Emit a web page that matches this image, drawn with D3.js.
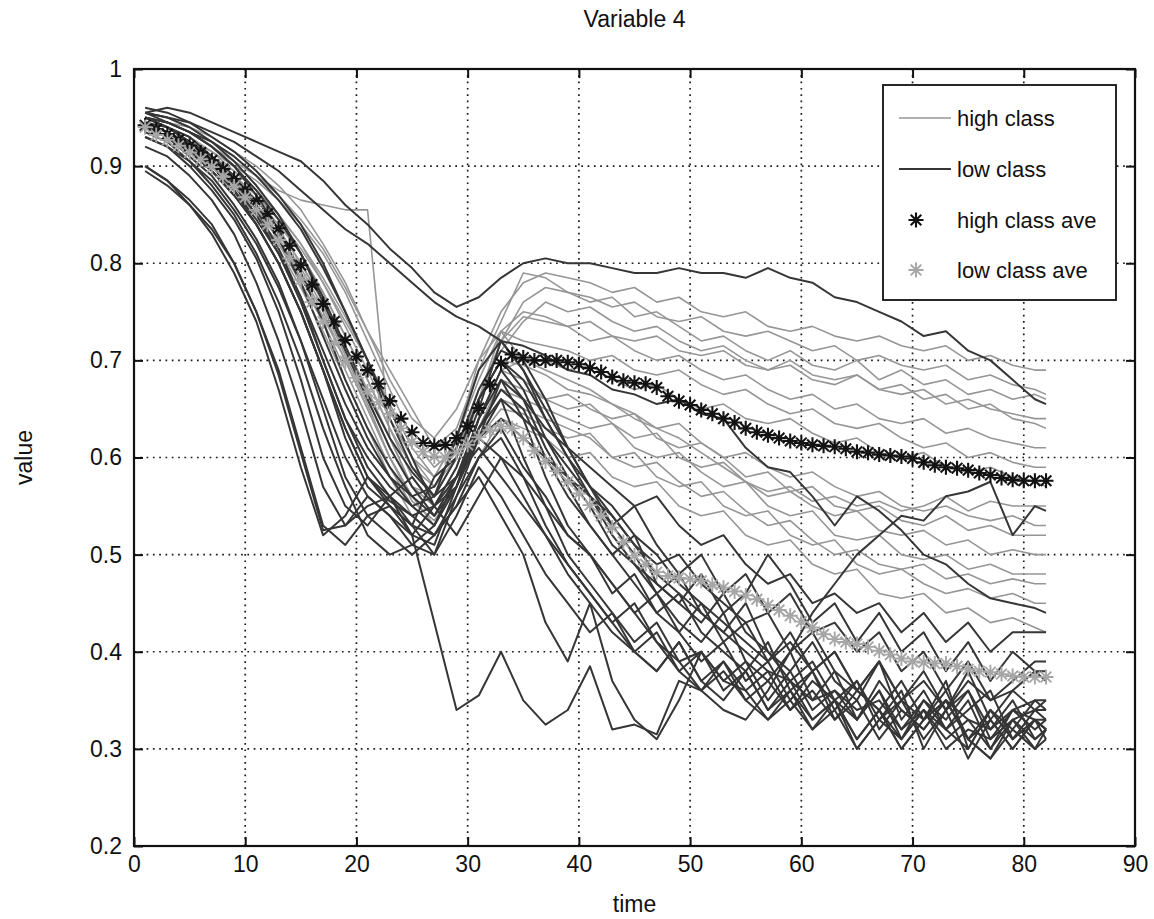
<!DOCTYPE html>
<html><head><meta charset="utf-8">
<script src="https://cdn.jsdelivr.net/npm/d3@7"></script>
<style>
body{margin:0;background:#fff}
svg{display:block}
text{font-family:"Liberation Sans",Arial,Helvetica,sans-serif;fill:#111}
</style>
</head><body>
<svg id="chart" width="1154" height="919"></svg>
<script>
// ---------- text ----------
const chartTitle = "Variable 4";
const xAxisLabel = "time";
const yAxisLabel = "value";
const legendLabels = ["high class", "low class", "high class ave", "low class ave"];

// ---------- ticks ----------
const xTickValues = [0, 10, 20, 30, 40, 50, 60, 70, 80, 90];
const yTickValues = [0.2, 0.3, 0.4, 0.5, 0.6, 0.7, 0.8, 0.9, 1.0];
const yTickLabels = ["0.2", "0.3", "0.4", "0.5", "0.6", "0.7", "0.8", "0.9", "1"];

// ---------- time grids ----------
const lineTimes = [1,3,5,7,9,11,13,15,17,19,21,23,25,27,29,31,33,35,37,39,41,43,45,47,49,51,53,55,57,59,61,63,65,67,69,71,73,75,77,79,81,82];
const aveTimes = [1,2,3,4,5,6,7,8,9,10,11,12,13,14,15,16,17,18,19,20,21,22,23,24,25,26,27,28,29,30,31,32,33,34,35,36,37,38,39,40,41,42,43,44,45,46,47,48,49,50,51,52,53,54,55,56,57,58,59,60,61,62,63,64,65,66,67,68,69,70,71,72,73,74,75,76,77,78,79,80,81,82];

// ---------- averages (one value per time step) ----------
const highClassAve = [0.942,0.938,0.933,0.927,0.921,0.914,0.906,0.897,0.887,0.876,0.864,0.851,0.836,0.818,0.798,0.778,0.758,0.740,0.721,0.704,0.690,0.676,0.658,0.640,0.626,0.615,0.612,0.613,0.620,0.632,0.651,0.675,0.697,0.706,0.703,0.700,0.700,0.700,0.698,0.696,0.692,0.688,0.683,0.679,0.677,0.676,0.672,0.663,0.658,0.654,0.649,0.645,0.640,0.636,0.630,0.626,0.623,0.620,0.617,0.615,0.613,0.612,0.611,0.609,0.606,0.605,0.603,0.602,0.601,0.599,0.595,0.592,0.590,0.589,0.587,0.584,0.582,0.579,0.577,0.576,0.576,0.576];
const lowClassAve = [0.940,0.932,0.927,0.921,0.914,0.907,0.899,0.889,0.879,0.868,0.855,0.840,0.824,0.805,0.783,0.760,0.740,0.718,0.699,0.682,0.668,0.657,0.645,0.630,0.616,0.606,0.601,0.600,0.605,0.613,0.621,0.628,0.632,0.630,0.620,0.607,0.596,0.586,0.575,0.563,0.551,0.540,0.528,0.513,0.499,0.490,0.482,0.478,0.476,0.475,0.473,0.469,0.466,0.462,0.458,0.454,0.448,0.443,0.437,0.431,0.425,0.418,0.413,0.410,0.408,0.405,0.401,0.397,0.393,0.390,0.389,0.388,0.388,0.385,0.382,0.380,0.379,0.377,0.375,0.374,0.374,0.374];

// ---------- high class series (values at lineTimes) ----------
const high01 = [.95,.945,.94,.93,.915,.90,.88,.855,.82,.78,.73,.68,.64, .62,.65,.70,.75,.78, .79,.785,.78,.77,.775,.76,.765,.75,.745,.75,.735,.73,.735,.725,.72,.725,.715,.71,.715,.70,.705,.695,.69,.69];
const high02 = [.94,.935,.925,.915,.90,.885,.865,.84,.81,.77,.72,.67,.62, .59,.61,.66,.72,.76, .775,.77,.765,.755,.76,.745,.74,.745,.73,.725,.73,.72,.71,.715,.70,.705,.695,.69,.695,.68,.685,.675,.67,.665];
const high03 = [.955,.95,.94,.925,.91,.89,.87,.845,.815,.775,.73,.69,.65, .61,.63,.69,.74,.79, .785,.77,.76,.765,.745,.75,.735,.72,.725,.71,.70,.71,.695,.69,.70,.68,.69,.675,.68,.665,.67,.66,.665,.66];
const high04 = [.94,.93,.92,.905,.89,.87,.845,.815,.78,.74,.70,.65,.60, .57,.60,.67,.71,.74, .76,.75,.755,.74,.73,.735,.72,.71,.715,.70,.69,.695,.68,.675,.685,.67,.665,.67,.655,.66,.65,.645,.64,.64];
const high05 = [.95,.945,.935,.92,.905,.89,.875,.865,.86,.855,.855,.62,.57, .56,.60,.66,.72,.745, .74,.735,.74,.725,.72,.725,.71,.705,.71,.695,.69,.70,.685,.68,.685,.67,.675,.66,.665,.65,.655,.64,.635,.63];
const high06 = [.945,.935,.925,.91,.895,.875,.85,.82,.785,.745,.70,.655,.61, .58,.62,.68,.73,.75, .745,.735,.72,.725,.71,.70,.705,.69,.68,.685,.67,.66,.665,.65,.655,.64,.635,.64,.625,.63,.62,.615,.61,.61];
const high07 = [.95,.94,.93,.915,.895,.875,.85,.82,.78,.735,.69,.64,.60, .58,.62,.70,.73,.72, .715,.71,.70,.705,.69,.685,.69,.675,.665,.67,.655,.645,.65,.635,.63,.635,.62,.61,.615,.60,.605,.595,.59,.59];
const high08 = [.94,.93,.92,.905,.885,.865,.84,.81,.77,.725,.68,.63,.59, .57,.61,.66,.73,.70, .70,.69,.695,.68,.67,.675,.66,.65,.655,.64,.635,.64,.625,.615,.62,.605,.60,.605,.59,.585,.59,.58,.575,.57];
const high09 = [.95,.94,.93,.91,.89,.87,.845,.81,.77,.725,.68,.63,.58, .55,.58,.64,.69,.70, .69,.68,.67,.655,.645,.63,.62,.605,.59,.575,.565,.57,.555,.56,.55,.555,.545,.55,.56,.545,.555,.55,.55,.55];
const high10 = [.945,.935,.92,.905,.885,.86,.835,.80,.76,.715,.67,.62,.57, .55,.59,.66,.70,.695, .685,.67,.665,.655,.64,.63,.635,.615,.60,.605,.59,.58,.585,.57,.56,.565,.55,.545,.55,.54,.535,.54,.53,.53];
const high11 = [.94,.93,.915,.90,.88,.855,.825,.79,.75,.70,.65,.60,.56, .53,.57,.63,.68,.67, .66,.665,.65,.64,.645,.62,.61,.615,.60,.58,.585,.565,.57,.55,.545,.55,.535,.53,.54,.525,.53,.52,.52,.52];
const high12 = [.95,.94,.925,.91,.89,.865,.835,.80,.76,.71,.66,.61,.57, .55,.58,.64,.69,.68, .66,.65,.655,.635,.62,.625,.60,.59,.595,.575,.56,.565,.55,.54,.545,.525,.52,.525,.51,.515,.50,.505,.50,.50];
const high13 = [.945,.935,.92,.90,.88,.855,.825,.785,.745,.70,.65,.60,.56, .54,.58,.63,.67,.66, .65,.64,.63,.635,.61,.60,.605,.585,.57,.575,.55,.54,.545,.52,.515,.52,.50,.495,.50,.485,.49,.48,.48,.48];
const high14 = [.94,.93,.915,.895,.875,.85,.82,.78,.74,.69,.64,.59,.55, .53,.57,.62,.65,.645, .63,.62,.625,.60,.59,.595,.575,.56,.565,.545,.53,.535,.515,.50,.505,.49,.485,.49,.475,.48,.47,.475,.47,.47];
const high15 = [.95,.94,.925,.905,.885,.86,.83,.795,.755,.705,.655,.60,.555, .535,.57,.62,.66,.65, .64,.63,.62,.60,.605,.58,.57,.575,.55,.54,.545,.52,.51,.515,.49,.48,.485,.47,.46,.465,.455,.46,.45,.45];
const high16 = [.945,.935,.92,.90,.875,.85,.815,.775,.73,.68,.63,.58,.54, .52,.55,.60,.64,.63, .62,.60,.605,.58,.57,.575,.55,.54,.545,.52,.51,.515,.49,.48,.485,.46,.455,.46,.44,.445,.43,.435,.425,.42];

// ---------- low class series (values at lineTimes) ----------
const low01 = [.955,.96,.955,.945,.935,.925,.915,.905,.885,.86,.84,.815,.795, .77,.755,.765,.785,.80, .805,.80,.80,.795,.79,.79,.795,.79,.79,.785,.795,.785,.78,.765,.76,.75,.74,.725,.73,.71,.70,.68,.66,.655];
const low02 = [.955,.95,.945,.935,.925,.91,.895,.875,.855,.835,.82,.80,.78, .76,.745,.735,.72,.69, .65,.61,.57,.54,.51,.48,.46,.44,.42,.40,.38,.37,.35,.36,.34,.35,.32,.34,.31,.33,.32,.34,.33,.33];
const low03 = [.95,.945,.935,.92,.90,.875,.845,.81,.765,.715,.665,.62,.585, .56,.62,.69,.72,.715, .705,.69,.685,.67,.665,.655,.66,.645,.64,.61,.59,.585,.56,.53,.56,.545,.525,.50,.49,.47,.455,.45,.445,.44];
const low04 = [.94,.93,.915,.895,.87,.84,.80,.75,.69,.63,.58,.555,.54, .52,.55,.60,.62,.58, .55,.52,.50,.47,.44,.41,.39,.36,.34,.33,.36,.40,.44,.47,.50,.52,.54,.535,.56,.565,.575,.52,.55,.545];
const low05 = [.93,.92,.905,.885,.855,.82,.775,.72,.66,.60,.56,.54,.52, .43,.34,.355,.40,.35, .325,.34,.385,.32,.325,.315,.37,.36,.38,.35,.37,.34,.36,.33,.35,.31,.34,.32,.35,.31,.33,.30,.33,.32];
const low06 = [.945,.935,.92,.90,.875,.84,.80,.75,.69,.63,.58,.55,.53, .52,.55,.58,.54,.50, .43,.39,.45,.37,.33,.31,.35,.40,.37,.36,.33,.35,.32,.34,.30,.33,.31,.34,.30,.32,.31,.33,.30,.32];
const low07 = [.90,.885,.865,.84,.80,.75,.69,.61,.53,.51,.54,.55,.52, .55,.58,.62,.60,.56, .52,.48,.45,.42,.40,.38,.41,.37,.39,.36,.38,.34,.37,.35,.33,.36,.32,.35,.33,.36,.31,.34,.35,.35];
const low08 = [.895,.88,.86,.835,.80,.75,.685,.605,.525,.53,.56,.54,.51, .50,.56,.62,.66,.60, .55,.50,.47,.44,.41,.43,.39,.40,.37,.39,.35,.38,.34,.36,.33,.37,.34,.32,.35,.33,.30,.34,.32,.33];
const low09 = [.92,.91,.89,.865,.83,.78,.72,.65,.57,.53,.55,.56,.52, .51,.57,.64,.68,.64, .58,.53,.50,.46,.48,.44,.42,.45,.41,.43,.39,.41,.38,.40,.36,.39,.35,.38,.34,.37,.35,.36,.38,.37];
const low10 = [.94,.93,.915,.895,.87,.84,.80,.75,.69,.62,.57,.55,.53, .58,.60,.66,.70,.67, .62,.58,.55,.51,.49,.46,.48,.44,.42,.45,.40,.38,.41,.37,.35,.39,.33,.36,.32,.35,.30,.33,.34,.34];
const low11 = [.95,.94,.93,.91,.885,.855,.815,.765,.70,.64,.59,.56,.54, .55,.59,.65,.72,.69, .64,.60,.57,.55,.52,.50,.47,.45,.43,.41,.39,.42,.38,.40,.36,.34,.37,.33,.35,.31,.34,.32,.35,.34];
const low12 = [.945,.935,.92,.90,.875,.845,.81,.765,.71,.655,.61,.58,.55, .53,.57,.63,.67,.65, .60,.56,.53,.50,.52,.47,.45,.43,.46,.42,.40,.37,.39,.35,.37,.33,.36,.30,.34,.36,.32,.35,.31,.32];
const low13 = [.955,.95,.94,.925,.905,.88,.85,.81,.76,.71,.66,.61,.57, .54,.58,.64,.69,.66, .61,.57,.53,.50,.47,.44,.46,.42,.40,.38,.41,.36,.38,.34,.37,.32,.35,.33,.37,.30,.34,.31,.33,.32];
const low14 = [.96,.955,.945,.93,.915,.895,.87,.84,.80,.75,.70,.64,.59, .56,.58,.63,.66,.64, .62,.59,.56,.54,.51,.49,.50,.47,.45,.43,.44,.40,.42,.38,.36,.39,.35,.37,.34,.38,.33,.36,.34,.35];
const low15 = [.95,.945,.935,.925,.91,.89,.865,.835,.795,.75,.70,.65,.60, .55,.57,.62,.64,.62, .60,.58,.56,.53,.55,.51,.48,.50,.46,.48,.44,.46,.42,.43,.40,.42,.38,.40,.36,.39,.35,.37,.39,.39];
const low16 = [.935,.925,.905,.88,.85,.81,.76,.70,.63,.57,.52,.50,.51, .53,.58,.61,.58,.55, .52,.49,.46,.43,.45,.41,.38,.40,.36,.38,.34,.37,.33,.35,.31,.34,.30,.33,.36,.31,.29,.33,.31,.32];
const low17 = [.94,.93,.91,.89,.86,.825,.78,.72,.65,.58,.54,.52,.50, .52,.56,.60,.63,.59, .56,.52,.50,.47,.44,.46,.42,.39,.41,.37,.39,.35,.38,.33,.36,.34,.31,.35,.32,.34,.36,.31,.34,.33];
const low18 = [.95,.94,.925,.905,.88,.85,.81,.76,.70,.64,.60,.57,.55, .56,.60,.66,.70,.68, .64,.60,.56,.52,.49,.47,.45,.48,.44,.46,.50,.47,.43,.45,.41,.44,.40,.42,.38,.41,.37,.40,.38,.38];
const low19 = [.945,.94,.925,.91,.89,.86,.825,.78,.725,.67,.62,.58,.56, .57,.61,.67,.71,.70, .66,.61,.57,.53,.50,.46,.43,.41,.44,.39,.37,.40,.35,.38,.33,.36,.31,.34,.32,.30,.34,.31,.33,.32];
const low20 = [.93,.92,.90,.875,.845,.805,.75,.68,.60,.55,.53,.56,.58, .55,.52,.56,.60,.58, .53,.49,.46,.43,.40,.42,.38,.36,.39,.35,.33,.36,.32,.35,.30,.33,.35,.31,.34,.29,.33,.30,.33,.31];
const low21 = [.955,.945,.935,.92,.90,.87,.835,.79,.74,.68,.63,.59,.56, .54,.57,.62,.68,.66, .63,.61,.59,.57,.55,.56,.53,.51,.52,.49,.47,.48,.45,.46,.44,.45,.42,.44,.41,.43,.40,.42,.42,.42];
const low22 = [.90,.885,.86,.83,.79,.74,.67,.59,.52,.54,.58,.56,.53, .50,.54,.59,.56,.52, .48,.45,.42,.44,.40,.38,.41,.37,.35,.38,.34,.36,.33,.35,.31,.34,.30,.33,.35,.31,.29,.32,.30,.31];

const highClassSeries = [high01,high02,high03,high04,high05,high06,high07,high08,high09,high10,high11,high12,high13,high14,high15,high16];
const lowClassSeries = [low01,low02,low03,low04,low05,low06,low07,low08,low09,low10,low11,low12,low13,low14,low15,low16,low17,low18,low19,low20,low21,low22];

// ---------- drawing ----------
const svg = d3.select("#chart");
const W = 1154, H = 919;
const m = {left: 134, right: 1135, top: 69, bottom: 846};

const x = d3.scaleLinear().domain([0, 90]).range([m.left, m.right]);
const y = d3.scaleLinear().domain([0.2, 1]).range([m.bottom, m.top]);

const colHigh = "#969696", colLow = "#363636", colHighAve = "#131313", colLowAve = "#a6a6a6";

svg.append("rect").attr("width", W).attr("height", H).attr("fill", "#fff");

// grid
const grid = svg.append("g").attr("stroke", "#1a1a1a").attr("stroke-width", 1.7)
  .attr("stroke-dasharray", "1.7,4.6").attr("fill", "none");
xTickValues.slice(1, -1).forEach(v => grid.append("line")
  .attr("x1", x(v)).attr("x2", x(v)).attr("y1", m.top).attr("y2", m.bottom));
yTickValues.slice(1, -1).forEach(v => grid.append("line")
  .attr("x1", m.left).attr("x2", m.right).attr("y1", y(v)).attr("y2", y(v)));

// series lines
const line = d3.line().x((d, i) => x(lineTimes[i])).y(d => y(d));
const plot = svg.append("g");
plot.selectAll("path.high").data(highClassSeries).join("path").attr("class", "high")
  .attr("d", line).attr("fill", "none").attr("stroke", colHigh).attr("stroke-width", 1.6)
  .attr("stroke-linejoin", "round");
plot.selectAll("path.low").data(lowClassSeries).join("path").attr("class", "low")
  .attr("d", line).attr("fill", "none").attr("stroke", colLow).attr("stroke-width", 2)
  .attr("stroke-linejoin", "round");

// asterisk markers
function asterisk(r) {
  const a = r * 0.7071;
  return `M${-r},0H${r}M0,${-r}V${r}M${-a},${-a}L${a},${a}M${-a},${a}L${a},${-a}`;
}
const R = 7.5;
function drawAve(vals, color, sw) {
  plot.append("g").selectAll("path").data(vals).join("path")
    .attr("transform", (d, i) => `translate(${x(aveTimes[i])},${y(d)})`)
    .attr("d", asterisk(R)).attr("fill", "none").attr("stroke", color).attr("stroke-width", sw);
}
drawAve(highClassAve, colHighAve, 2.1);
drawAve(lowClassAve, colLowAve, 1.9);

// axes (inward ticks, MATLAB box)
const fs = 23;
const axB = svg.append("g").attr("transform", `translate(0,${m.bottom})`)
  .call(d3.axisBottom(x).tickValues(xTickValues).tickSize(-9).tickPadding(10).tickFormat(d3.format("d")));
const axL = svg.append("g").attr("transform", `translate(${m.left},0)`)
  .call(d3.axisLeft(y).tickValues(yTickValues).tickSize(-9).tickPadding(12).tickFormat((d, i) => yTickLabels[i]));
const axT = svg.append("g").attr("transform", `translate(0,${m.top})`)
  .call(d3.axisTop(x).tickValues(xTickValues).tickSize(-9).tickFormat(""));
const axR = svg.append("g").attr("transform", `translate(${m.right},0)`)
  .call(d3.axisRight(y).tickValues(yTickValues).tickSize(-9).tickFormat(""));
[axB, axL, axT, axR].forEach(g => {
  g.select(".domain").remove();
  g.selectAll(".tick line").attr("stroke", "#111").attr("stroke-width", 2);
  g.selectAll(".tick text").attr("font-size", fs).attr("fill", "#111")
    .attr("font-family", '"Liberation Sans",Arial,Helvetica,sans-serif');
});

// box
svg.append("rect").attr("x", m.left).attr("y", m.top)
  .attr("width", m.right - m.left).attr("height", m.bottom - m.top)
  .attr("fill", "none").attr("stroke", "#111").attr("stroke-width", 2.2);

// title & labels
svg.append("text").attr("x", (m.left + m.right) / 2).attr("y", 27)
  .attr("text-anchor", "middle").attr("font-size", fs).text(chartTitle);
svg.append("text").attr("x", (m.left + m.right) / 2).attr("y", 912)
  .attr("text-anchor", "middle").attr("font-size", fs).text(xAxisLabel);
svg.append("text").attr("transform", `translate(32,${(m.top + m.bottom) / 2}) rotate(-90)`)
  .attr("text-anchor", "middle").attr("font-size", fs).text(yAxisLabel);

// legend
const lg = svg.append("g");
lg.append("rect").attr("x", 883).attr("y", 85).attr("width", 233).attr("height", 215)
  .attr("fill", "#fff").attr("stroke", "#111").attr("stroke-width", 1.8);
const rowsY = [118, 169, 220, 270];
lg.append("line").attr("x1", 899).attr("x2", 951).attr("y1", rowsY[0]).attr("y2", rowsY[0])
  .attr("stroke", colHigh).attr("stroke-width", 1.6);
lg.append("line").attr("x1", 899).attr("x2", 951).attr("y1", rowsY[1]).attr("y2", rowsY[1])
  .attr("stroke", colLow).attr("stroke-width", 2);
lg.append("path").attr("transform", `translate(916,${rowsY[2]})`).attr("d", asterisk(R))
  .attr("fill", "none").attr("stroke", colHighAve).attr("stroke-width", 2.1);
lg.append("path").attr("transform", `translate(916,${rowsY[3]})`).attr("d", asterisk(R))
  .attr("fill", "none").attr("stroke", colLowAve).attr("stroke-width", 1.9);
legendLabels.forEach((t, i) => lg.append("text").attr("x", 957).attr("y", rowsY[i])
  .attr("dy", "0.35em").attr("font-size", 22).text(t));
</script>
</body></html>
